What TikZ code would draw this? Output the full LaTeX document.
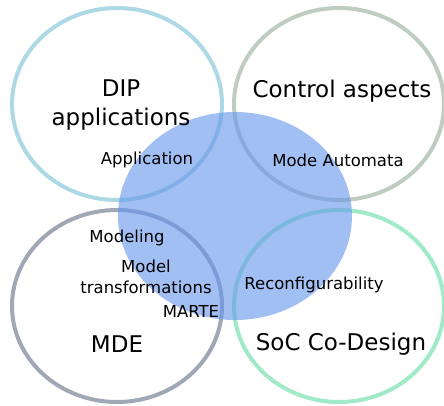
\documentclass[tikz,border=0pt]{standalone}
\usepackage{fontspec}
\setmainfont{DejaVu Sans}
\definecolor{cdip}{RGB}{173,216,230}
\definecolor{cctl}{RGB}{190,204,194}
\definecolor{cmde}{RGB}{160,168,182}
\definecolor{csoc}{RGB}{160,234,200}
\definecolor{cblue}{RGB}{100,149,237}
\tikzset{
  ring/.style={line width=4pt},
  big/.style={font=\fontsize{23}{29}\selectfont, align=center, inner sep=0pt},
  small/.style={font=\fontsize{16.5}{21}\selectfont, align=center, inner sep=0pt},
}
\begin{document}
\begin{tikzpicture}[x=1pt,y=-1pt]
\useasboundingbox (0,0) rectangle (444,405);
\draw[ring, cdip] (117,104) ellipse [x radius=105, y radius=96];
\draw[ring, cctl] (339,104) ellipse [x radius=105, y radius=96];
\draw[ring, cmde] (117,306) ellipse [x radius=105, y radius=96];
\draw[ring, csoc] (339,306) ellipse [x radius=105, y radius=96];
\fill[cblue, opacity=0.6] (235,216) ellipse [x radius=117, y radius=104];
\node[big] (dip) at (121,105) {DIP\\applications};
\node[big] (ctl) at (342,91) {Control aspects};
\node[big] (mde) at (117,344) {MDE};
\node[big] (soc) at (341,344) {SoC Co-Design};
\node[small] (app) at (147,160) {Application};
\node[small] (ma) at (338,160) {Mode Automata};
\node[small] (mod) at (127,238) {Modeling};
\node[small] (mt) at (146,277) {Model\\transformations};
\node[small] (marte) at (191,311) {MARTE};
\node[small] (rec) at (314,285) {Reconfigurability};
\end{tikzpicture}
\end{document}
